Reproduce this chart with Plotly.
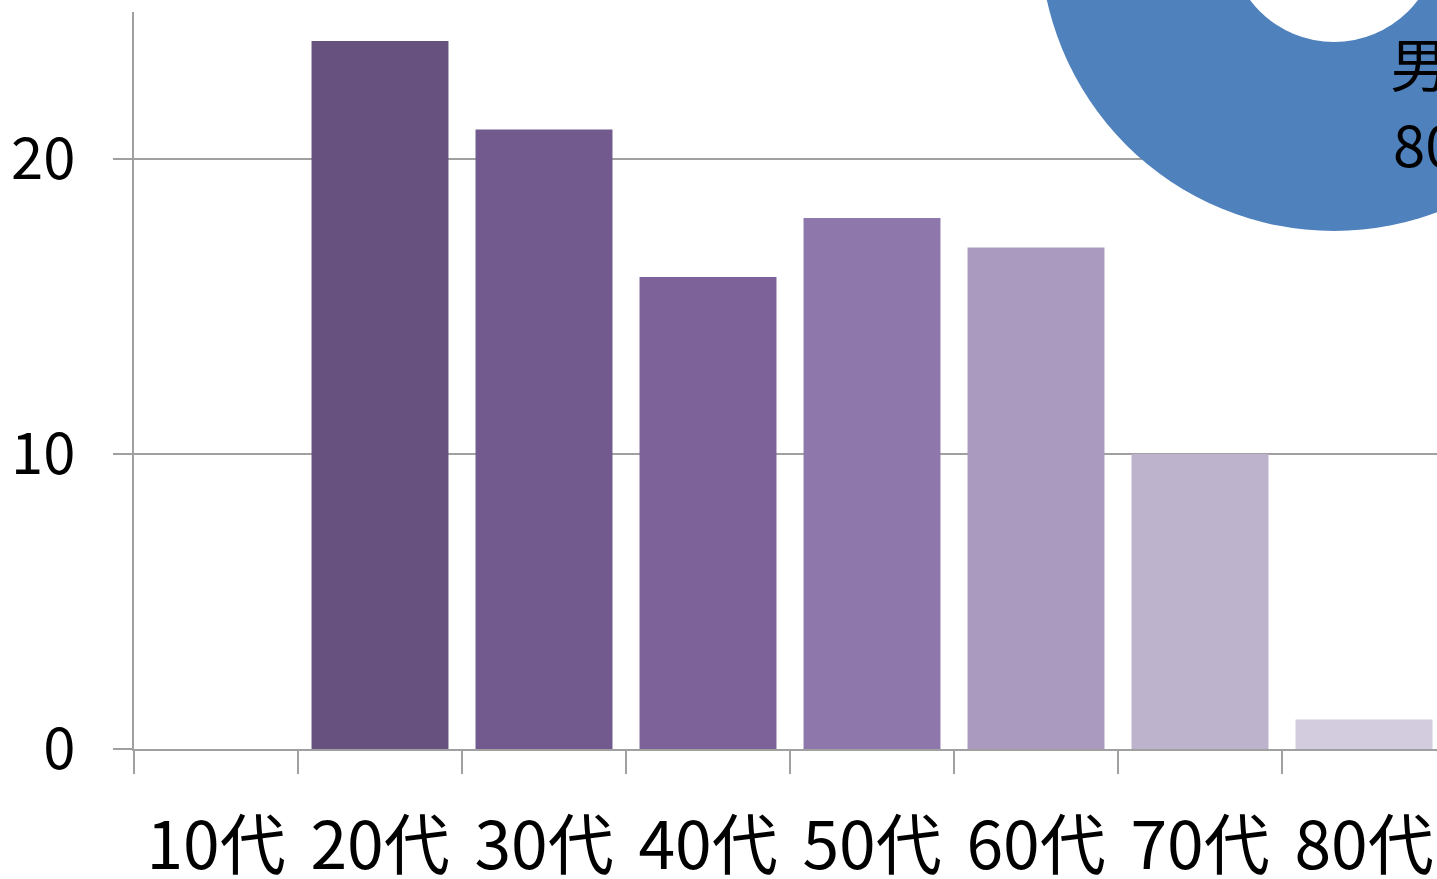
import plotly.graph_objects as go

categories = ["10代", "20代", "30代", "40代", "50代", "60代", "70代", "80代"]
values = [0, 24, 21, 16, 18, 17, 10, 1]
bar_colors = ["#67517F", "#67517F", "#72598E", "#7D6199", "#8E78AB", "#AA9ABF", "#BDB3CD", "#D3CBDE"]

donut_labels = ["男性", "80%"]

W, H = 1437, 879
ml, mr, mt, mb = 134, 0, 12, 130
plot_w = W - ml - mr
plot_h = H - mt - mb
px_per_unit = 29.5
cat_px = 164

grid_col = "#a0a0a0"
font_family = "Noto Sans CJK JP, Noto Sans, sans-serif"

fig = go.Figure(go.Bar(
    x=categories, y=values,
    marker=dict(color=bar_colors, line=dict(width=0)),
    hoverinfo="x+y",
))

# donut (partially visible, cut off at the top-right edge as in the reference)
cx_px, cy_px, R_out, R_in = 1334, -63, 294, 105
cx = (cx_px - ml) / plot_w
cy = (H - mb - cy_px) / plot_h
for r, col in [(R_out, "#4F81BD"), (R_in, "white")]:
    fig.add_shape(type="circle", xref="paper", yref="paper",
                  xsizemode="pixel", ysizemode="pixel",
                  xanchor=cx, yanchor=cy, x0=-r, x1=r, y0=-r, y1=r,
                  fillcolor=col, line=dict(width=0), layer="above")

for txt, px, py in zip(donut_labels, [1388, 1391], [62, 142]):
    fig.add_annotation(text=txt, xref="paper", yref="paper",
                       x=(px - ml) / plot_w, y=(H - mb - py) / plot_h,
                       xanchor="left", yanchor="middle", showarrow=False,
                       font=dict(size=58, color="black", family=font_family))

fig.update_layout(
    width=W, height=H,
    margin=dict(l=ml, r=mr, t=mt, b=mb, pad=0, autoexpand=False),
    paper_bgcolor="white", plot_bgcolor="white",
    bargap=0.165, showlegend=False,
    font=dict(family=font_family, color="black"),
)
fig.update_xaxes(
    type="category", automargin=False,
    range=[-0.5, -0.5 + plot_w / cat_px],
    showline=True, linecolor=grid_col, linewidth=2,
    ticks="outside", tickson="boundaries", ticklen=23, tickcolor=grid_col, tickwidth=2,
    tickfont=dict(size=66, family=font_family, color="black"),
    ticklabelstandoff=39,
    showgrid=False, zeroline=False,
)
fig.update_yaxes(
    automargin=False,
    range=[0, plot_h / px_per_unit],
    tickvals=[0, 10, 20],
    showline=True, linecolor=grid_col, linewidth=2,
    ticks="outside", ticklen=19, tickcolor=grid_col, tickwidth=2,
    tickfont=dict(size=58, family=font_family, color="black"),
    ticklabelstandoff=26,
    showgrid=True, gridcolor=grid_col, gridwidth=2,
    zeroline=False,
)

fig.write_html("out.html")
